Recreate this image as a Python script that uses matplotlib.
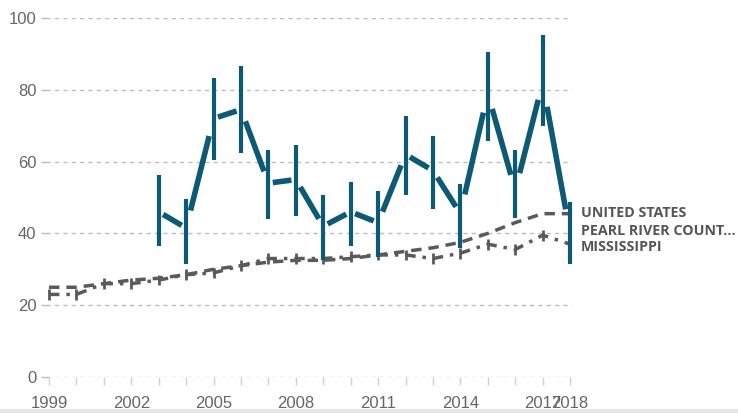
import matplotlib
matplotlib.use("Agg")
import matplotlib.pyplot as plt
import numpy as np
from matplotlib.lines import Line2D

years = list(range(1999, 2019))
county_years = list(range(2003, 2019))
county = [46, 41.5, 72, 74.5, 54, 55, 42, 46, 43, 62, 57.5, 45.5, 79, 52, 82, 40]
county_lo = [36.5, 31.5, 60.4, 62.4, 44, 44.8, 32.6, 36.5, 33.4, 50.7, 46.8, 35.9, 65.7, 44.3, 70, 31.5]
county_hi = [56.3, 49.6, 83.3, 86.6, 63.2, 64.6, 50.7, 54.3, 51.8, 72.7, 67.1, 53.8, 90.5, 63.2, 95.3, 48.7]
us = [25, 25, 26, 27, 27.5, 28.5, 30, 31, 32, 32.5, 32.5, 33, 34, 35, 36, 37.5, 40, 43, 45.5, 45.5]
ms = [23, 23, 26, 26, 27, 28.5, 29, 31, 33, 33, 33, 33.5, 34, 34, 33, 34.5, 37, 35.5, 39.5, 37]
xtick_labels = ["1999", "2002", "2005", "2008", "2011", "2014", "2017", "2018"]
ytick_vals = [0, 20, 40, 60, 80, 100]
labels = ["UNITED STATES", "PEARL RIVER COUNT...", "MISSISSIPPI"]

teal = "#0c5a75"
grey = "#5a5a5a"

W, H = 738, 413
fig = plt.figure(figsize=(W/100, H/100), dpi=100)
ax = fig.add_axes([49/W, (H-377)/H, (572-49)/W, (377-18)/H])
ax.set_xlim(1999.0, 2018.07)
ax.set_ylim(0, 100)
for s in ax.spines.values():
    s.set_visible(False)

# grid
for v in ytick_vals:
    ax.axhline(v, color="#bdbdbd", lw=1, ls=(2, (3, 3)), zorder=0)
ax.set_yticks(ytick_vals)
ax.set_yticklabels([str(v) for v in ytick_vals])
ax.tick_params(axis="y", length=5.5, width=1, color="#bdbdbd", pad=3.5, labelsize=12, labelcolor="#666666")
ax.set_xticks(years)
ax.set_xticklabels([str(y) if str(y) in xtick_labels else "" for y in years])
ax.tick_params(axis="x", length=6, width=1, color="#d0d0d0", pad=8, labelsize=12, labelcolor="#666666", direction="out")
for t in ax.get_xticklabels() + ax.get_yticklabels():
    t.set_fontfamily("Liberation Sans")

# grey series
ax.plot(years, us, color=grey, lw=2.5, ls=(0, (3, 2)), zorder=2, clip_on=False)
ax.plot(years, ms, color=grey, lw=2.5, ls=(0, (3, 2, 1, 2)), zorder=2, clip_on=False)
ax.vlines(years, np.array(ms) - 1.5, np.array(ms) + 1.5, color=grey, lw=2, zorder=2, clip_on=False)

# county line with gaps
d = 0.16
for i in range(len(county_years) - 1):
    x0, x1 = county_years[i], county_years[i + 1]
    y0, y1 = county[i], county[i + 1]
    sl = (y1 - y0) / (x1 - x0)
    ax.plot([x0 + d, x1 - d], [y0 + sl * d, y1 - sl * d], color=teal, lw=4, solid_capstyle="butt", zorder=3)
ax.vlines(county_years, county_lo, county_hi, color=teal, lw=3, zorder=4, clip_on=False)

# right labels
for lab, yv in zip(labels, [45.6, 40.6, 36.2]):
    ax.text(2018.38, yv, lab, fontsize=10.3, fontweight="bold", color="#555555",
            family="Open Sans", va="center", ha="left", clip_on=False)

fig.add_artist(Line2D([0, 1], [2/H, 2/H], color="#e6e6e6", lw=3))
fig.savefig("out.png", dpi=100)
